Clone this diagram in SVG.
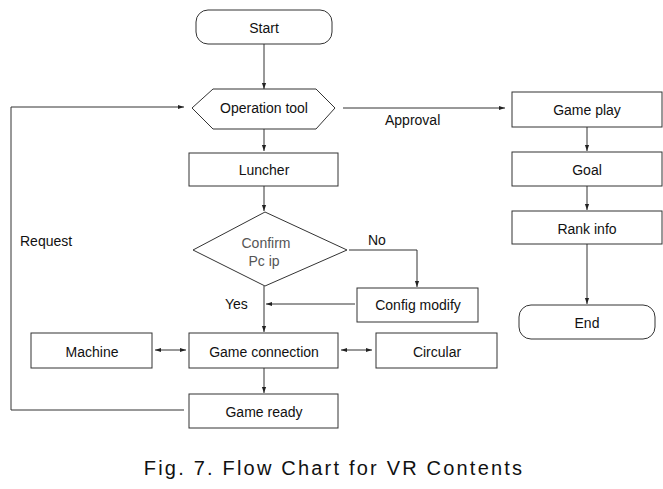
<svg xmlns="http://www.w3.org/2000/svg" width="663" height="489" viewBox="0 0 663 489">
<style>
.n{fill:#fff;stroke:#333;stroke-width:1}
.t{font-family:"Liberation Sans",Arial,sans-serif;font-size:14px;fill:#111;text-anchor:middle;dominant-baseline:central}
.l{font-family:"Liberation Sans",Arial,sans-serif;font-size:14px;fill:#111;dominant-baseline:central}
.c{fill:none;stroke:#333;stroke-width:1}
</style>
<defs>
<marker id="a" viewBox="0 0 10 10" refX="10" refY="5" markerWidth="6" markerHeight="6" orient="auto-start-reverse" markerUnits="userSpaceOnUse"><path d="M0,1.5L10,5L0,8.5z" fill="#222"/></marker>
</defs>
<rect width="663" height="489" fill="#fff"/>
<g id="connectors">
<path class="c" d="M264,44V89" marker-end="url(#a)"/>
<path class="c" d="M343,108H505" marker-end="url(#a)"/>
<path class="c" d="M264,129V151" marker-end="url(#a)"/>
<path class="c" d="M264,186V211" marker-end="url(#a)"/>
<path class="c" d="M349,250H417V287" marker-end="url(#a)"/>
<path class="c" d="M355,304H266" marker-end="url(#a)"/>
<path class="c" d="M264,286V332" marker-end="url(#a)"/>
<path class="c" d="M155,350H186" marker-start="url(#a)" marker-end="url(#a)"/>
<path class="c" d="M341,350H372" marker-start="url(#a)" marker-end="url(#a)"/>
<path class="c" d="M264,368V393" marker-end="url(#a)"/>
<path class="c" d="M184,410H11V107H184" marker-end="url(#a)"/>
<path class="c" d="M587,127V151" marker-end="url(#a)"/>
<path class="c" d="M587,186V210" marker-end="url(#a)"/>
<path class="c" d="M587,244V304" marker-end="url(#a)"/>
<text class="l" x="385" y="120">Approval</text>
<text class="l" x="368" y="240">No</text>
<text class="l" x="225" y="304">Yes</text>
<text class="l" x="20" y="241">Request</text>
</g>
<g id="start"><rect class="n" x="196" y="10" width="136" height="34" rx="12"/><text class="t" x="264" y="28">Start</text></g>
<g id="operation-tool"><polygon class="n" points="192,108 213,89 316,89 335,108 316,129 213,129"/><text class="t" x="264" y="108">Operation tool</text></g>
<g id="luncher"><rect class="n" x="189" y="153" width="149" height="33"/><text class="t" x="264" y="170">Luncher</text></g>
<g id="confirm"><polygon class="n" points="193,250 265,212 347,250 265,286"/><text class="t" x="266" y="243" style="fill:#555">Confirm</text><text class="t" x="264" y="261" style="fill:#555">Pc ip</text></g>
<g id="config-modify"><rect class="n" x="357" y="288" width="121" height="34"/><text class="t" x="418" y="305">Config modify</text></g>
<g id="machine"><rect class="n" x="31" y="333" width="121" height="35"/><text class="t" x="92" y="352">Machine</text></g>
<g id="game-connection"><rect class="n" x="189" y="333" width="149" height="35"/><text class="t" x="264" y="352">Game connection</text></g>
<g id="circular"><rect class="n" x="376" y="333" width="121" height="35"/><text class="t" x="437" y="352">Circular</text></g>
<g id="game-ready"><rect class="n" x="189" y="394" width="149" height="34"/><text class="t" x="264" y="412">Game ready</text></g>
<g id="game-play"><rect class="n" x="512" y="92" width="150" height="35"/><text class="t" x="587" y="110">Game play</text></g>
<g id="goal"><rect class="n" x="512" y="152" width="150" height="34"/><text class="t" x="587" y="170">Goal</text></g>
<g id="rank-info"><rect class="n" x="512" y="211" width="150" height="33"/><text class="t" x="587" y="229">Rank info</text></g>
<g id="end"><rect class="n" x="519" y="305" width="136" height="34" rx="12"/><text class="t" x="587" y="323">End</text></g>
<text x="334" y="468" style="font-family:'Liberation Sans',Arial,sans-serif;font-size:20px;fill:#111;text-anchor:middle;dominant-baseline:central;letter-spacing:2.2px">Fig. 7. Flow Chart for VR Contents</text>
</svg>
